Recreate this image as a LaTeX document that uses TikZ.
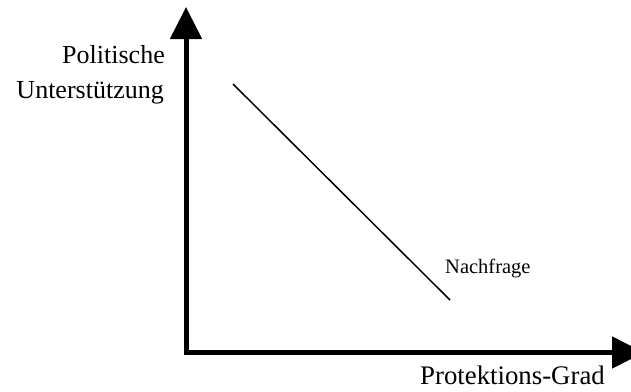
\documentclass[tikz,border=0pt]{standalone}
\usepackage{fontspec}
\setmainfont{Liberation Serif}
\usetikzlibrary{arrows.meta}
\begin{document}
\begin{tikzpicture}[x=1pt,y=-1pt,
  axis/.style={line width=5pt, line join=miter,
    {Triangle[width=31pt,length=32pt]}-{Triangle[width=31pt,length=32pt]}},
  big/.style={font=\fontsize{26}{30}\selectfont, inner sep=0pt},
  small/.style={font=\fontsize{20.5}{24}\selectfont, inner sep=0pt}]
\useasboundingbox (0,0) rectangle (631,391);
\clip (0,0) rectangle (631,391);
\coordinate (ytop) at (186,7);
\coordinate (origin) at (186,352.5);
\coordinate (xend) at (644,352.5);
\draw[axis] (ytop) -- (origin) -- (xend);
\coordinate (d1) at (233,84);
\coordinate (d2) at (450,300);
\draw[line width=1.5pt] (d1) -- (d2);
\node[big, anchor=base east] (lab1) at (165,63) {Politische};
\node[big, anchor=base east] (lab2) at (164,98) {Unterstützung};
\node[small, anchor=base west] (nach) at (445,273) {Nachfrage};
\node[big, font=\fontsize{26.8}{30}\selectfont, anchor=base west] (prot) at (420,384) {Protektions-Grad};
\end{tikzpicture}
\end{document}
